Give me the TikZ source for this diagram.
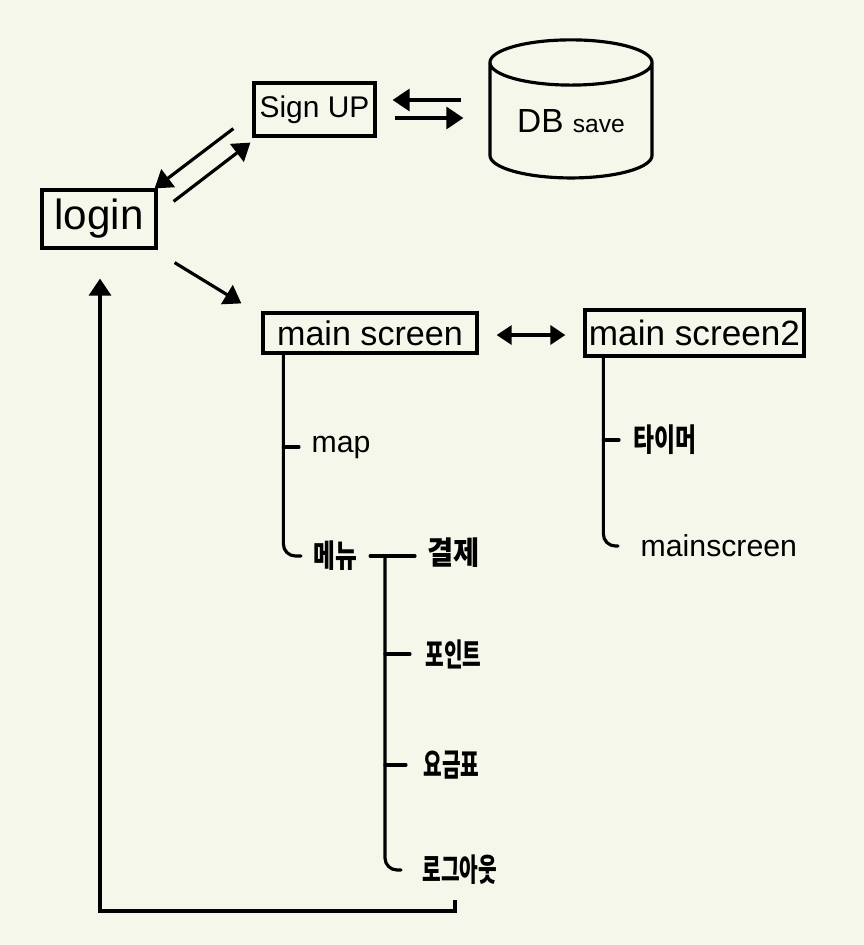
\documentclass[tikz,border=0pt]{standalone}
\usepackage{fontspec}
\setmainfont{Liberation Sans}
\newfontfamily\korfont{Noto Sans CJK KR}
\usetikzlibrary{positioning, arrows.meta, shapes.geometric}
\definecolor{paper}{HTML}{F5F7EB}
\newcommand{\kor}[2][0.64]{\scalebox{#1}[1]{\korfont\bfseries #2}}

\begin{document}
\begin{tikzpicture}[
                x=0.01cm, y=-0.01cm,
                box/.style={rectangle, draw=black, line width=0.9pt, inner sep=0pt, align=center},
                label/.style={anchor=west, inner sep=0.12cm, font=\fontsize{8.6}{10}\selectfont},
                korlabel/.style={label, font=\fontsize{9}{10}\selectfont},
                arrow/.style={-{Triangle[length=1.7mm, width=2.2mm]}, line width=0.9pt},
                twoway/.style={{Triangle[length=1.5mm, width=1.9mm]}-{Triangle[length=1.5mm, width=1.9mm]}, line width=0.9pt},
                treeline/.style={line width=0.9pt, line cap=round, rounded corners=1.2mm}
            ]
            \fill[paper] (0,0) rectangle (864,945);
            \useasboundingbox (0,0) rectangle (864,945);

            \node[box, minimum width=1.14cm, minimum height=0.58cm, font=\fontsize{12}{14}\selectfont] (login) at (99,219) {login};
            \node[box, minimum width=1.21cm, minimum height=0.53cm, font=\fontsize{8.5}{10}\selectfont] (signup) at (314.5,109.5) {Sign UP};
            \node[cylinder, draw=black, line width=0.9pt, shape border rotate=90, aspect=0.42, minimum width=1.62cm, minimum height=1.38cm, inner sep=0pt] (db) at (571,121) {\fontsize{9.5}{11}\selectfont DB \fontsize{7}{9}\selectfont save};
            \node[box, minimum width=2.14cm, minimum height=0.40cm, font=\fontsize{9.7}{11}\selectfont] (main) at (370,333) {main screen};
            \node[box, minimum width=2.19cm, minimum height=0.46cm, font=\fontsize{10}{12}\selectfont] (mainb) at (694.5,333) {main screen2};

            \node[label] (map) at (299,447) {map};
            \node[korlabel] (menu) at (301,556) {\kor[0.75]{메뉴}};
            \node[korlabel] (pay) at (415,553) {\kor[0.9]{결제}};
            \node[korlabel] (point) at (413,654) {\kor{포인트}};
            \node[korlabel] (price) at (411,765) {\kor{요금표}};
            \node[korlabel] (logout) at (410,870) {\kor{로그아웃}};
            \node[korlabel] (timer) at (621,440) {\kor[0.72]{타이머}};
            \node[label] (mainc) at (628,546) {mainscreen};

            % login and sign up
            \draw[arrow] ([shift={(-19,-9)}]signup.south west) -- ([shift={(-3,0)}]login.north east);
            \draw[arrow] ([shift={(16,13)}]login.north east) -- ([shift={(-2,5)}]signup.south west);
            \draw[arrow] ([shift={(-27,-9.5)}]db.west |- signup.east) -- ([shift={(16,-9.5)}]signup.east);
            \draw[arrow] ([shift={(18,8.5)}]signup.east) -- ([shift={(-25,8.5)}]db.west |- signup.east);

            \draw[arrow] ([shift={(17,13)}]login.south east) -- ([shift={(-20,-8)}]main.north west);
            \draw[twoway] ([shift={(18,2)}]main.east) -- ([shift={(-18,2)}]mainb.west);

            % main screen tree
            \coordinate (rootmain) at ([xshift=0.22cm]main.south west);
            \draw[treeline] (rootmain) |- (menu.west);
            \draw[treeline] (rootmain |- map.west) -- (map.west);

            % menu tree
            \coordinate (rootmenu) at (menu.east -| 385,0);
            \draw[treeline] (menu.east) -- (menu.east -| pay.west);
            \draw[treeline, shorten >=0.09cm] (rootmenu) |- (logout.west);
            \draw[treeline, shorten >=0.03cm] (rootmenu |- point.west) -- (point.west);
            \draw[treeline, shorten >=0.05cm] (rootmenu |- price.west) -- (price.west);

            % main screen 2 tree
            \coordinate (rootmainb) at ([xshift=0.20cm]mainb.south west);
            \draw[treeline] (rootmainb) |- ([xshift=-0.10cm]mainc.west);
            \draw[treeline] (rootmainb |- timer.west) -- ([xshift=-0.02cm]timer.west);

            % back to login
            \coordinate (backcorner) at (100,911);
            \draw[arrow] ([shift={(-5,30)}]logout.center) |- (backcorner) -- ([shift={(1,29)}]login.south);
        \end{tikzpicture}
\end{document}
